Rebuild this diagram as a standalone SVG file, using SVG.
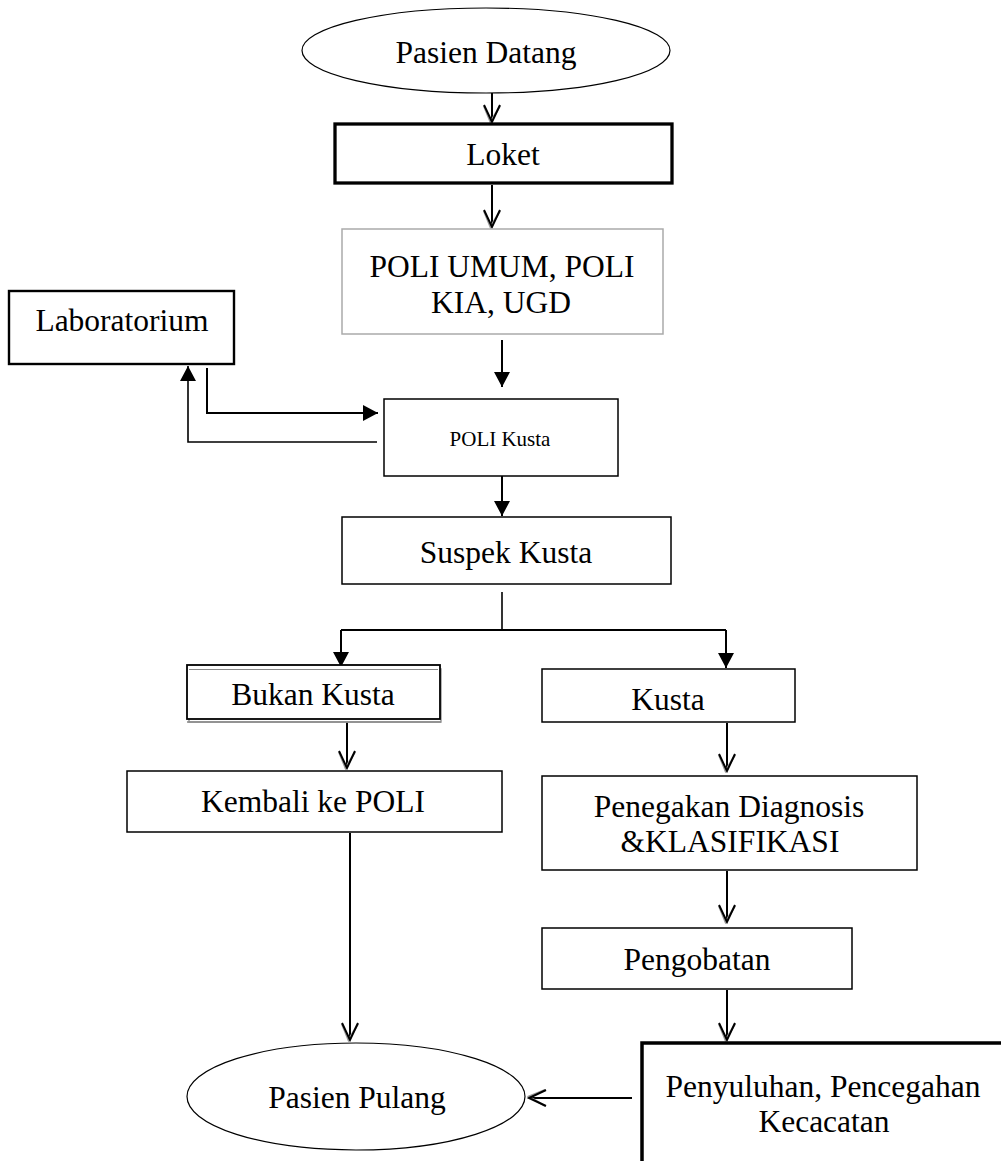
<svg xmlns="http://www.w3.org/2000/svg" width="1001" height="1161" viewBox="0 0 1001 1161">
<style>
  text { font-family: "Liberation Serif", "Times New Roman", serif; font-size: 31.5px; fill: #000; text-anchor: middle; }
  .box { fill: #fff; stroke: #000; stroke-width: 1.5; }
  .conn { fill: none; stroke: #000; stroke-width: 2; }
</style>
<defs>
  <marker id="vee" markerUnits="userSpaceOnUse" orient="auto" refX="0" refY="0" markerWidth="40" markerHeight="40" viewBox="-20 -20 40 40" overflow="visible">
    <path d="M-16,-8 L0,1.5 L-16,8" fill="none" stroke="#999" stroke-width="2"/>
    <path d="M-17,-8 L0,0 L-17,8" fill="none" stroke="#000" stroke-width="2"/>
  </marker>
  <marker id="tri" markerUnits="userSpaceOnUse" orient="auto" refX="0" refY="0" markerWidth="40" markerHeight="40" viewBox="-20 -20 40 40" overflow="visible">
    <path d="M0,0 L-15,-8 L-15,8 Z" fill="#000"/>
  </marker>
</defs>

<g id="connectors">
  <path class="conn" d="M492,93 L492,122" marker-end="url(#vee)"/>
  <path class="conn" d="M492,185 L492,227" marker-end="url(#vee)"/>
  <path class="conn" d="M502,340 L502,387" marker-end="url(#tri)"/>
  <path class="conn" d="M207,368 L207,413 L378,413" marker-end="url(#tri)"/>
  <path class="conn" style="stroke-width:1.6" d="M377,442 L188,442 L188,366" marker-end="url(#tri)"/>
  <path class="conn" d="M502,476 L502,516" marker-end="url(#tri)"/>
  <path class="conn" style="stroke-width:1.6" d="M502,592 L502,630"/>
  <path class="conn" d="M341,630 L726,630"/>
  <path class="conn" d="M341,630 L341,667" marker-end="url(#tri)"/>
  <path class="conn" d="M726,630 L726,668" marker-end="url(#tri)"/>
  <path class="conn" d="M347,722 L347,768" marker-end="url(#vee)"/>
  <path class="conn" d="M727,723 L727,771" marker-end="url(#vee)"/>
  <path class="conn" d="M727,871 L727,922" marker-end="url(#vee)"/>
  <path class="conn" d="M727,990 L727,1040" marker-end="url(#vee)"/>
  <path class="conn" d="M350,833 L350,1040" marker-end="url(#vee)"/>
  <path class="conn" d="M632,1098 L529,1098" marker-end="url(#vee)"/>
</g>

<g id="pasien-datang">
  <ellipse cx="486" cy="50.5" rx="184" ry="42.5" fill="#fff" stroke="#000" stroke-width="1.2"/>
  <text x="486" y="63">Pasien Datang</text>
</g>

<g id="loket">
  <rect x="335" y="124" width="337" height="59" fill="#fff" stroke="#000" stroke-width="3.3"/>
  <text x="503" y="165">Loket</text>
</g>

<g id="poli-umum">
  <rect x="342" y="229" width="321" height="105" fill="#fff" stroke="#aaa" stroke-width="1.5"/>
  <text x="502" y="277">POLI UMUM, POLI</text>
  <text x="501" y="313">KIA, UGD</text>
</g>

<g id="laboratorium">
  <rect x="9" y="291" width="225" height="73" fill="#fff" stroke="#000" stroke-width="2.4"/>
  <text x="122" y="331">Laboratorium</text>
</g>

<g id="poli-kusta">
  <rect class="box" x="384" y="399" width="234" height="77"/>
  <text x="500" y="446" style="font-size:21px">POLI Kusta</text>
</g>

<g id="suspek-kusta">
  <rect class="box" x="342" y="517" width="329" height="67"/>
  <text x="506" y="563">Suspek Kusta</text>
</g>

<g id="bukan-kusta">
  <rect x="189" y="669" width="252" height="53" fill="none" stroke="#999" stroke-width="1.5"/>
  <rect x="187" y="665" width="253" height="54" fill="#fff" stroke="#000" stroke-width="1.8"/>
  <line x1="189" y1="669.5" x2="438" y2="669.5" stroke="#888" stroke-width="1.2"/>
  <line x1="187" y1="722" x2="441" y2="722" stroke="#888" stroke-width="1.5"/>
  <text x="313" y="705">Bukan Kusta</text>
</g>

<g id="kusta">
  <rect class="box" x="542" y="669" width="253" height="53"/>
  <text x="668" y="710">Kusta</text>
</g>

<g id="kembali-ke-poli">
  <rect class="box" x="127" y="771" width="375" height="61"/>
  <text x="313" y="812">Kembali ke POLI</text>
</g>

<g id="penegakan-diagnosis">
  <rect class="box" x="542" y="776" width="375" height="94"/>
  <text x="729" y="817">Penegakan Diagnosis</text>
  <text x="730" y="852">&amp;KLASIFIKASI</text>
</g>

<g id="pengobatan">
  <rect class="box" x="542" y="928" width="310" height="61"/>
  <text x="697" y="970">Pengobatan</text>
</g>

<g id="penyuluhan">
  <rect x="642" y="1043" width="380" height="140" fill="#fff" stroke="#000" stroke-width="3.5"/>
  <text x="823" y="1097">Penyuluhan, Pencegahan</text>
  <text x="824" y="1132">Kecacatan</text>
</g>

<g id="pasien-pulang">
  <ellipse cx="356" cy="1096.5" rx="169" ry="53.5" fill="#fff" stroke="#000" stroke-width="1.2"/>
  <text x="357" y="1108">Pasien Pulang</text>
</g>
</svg>
